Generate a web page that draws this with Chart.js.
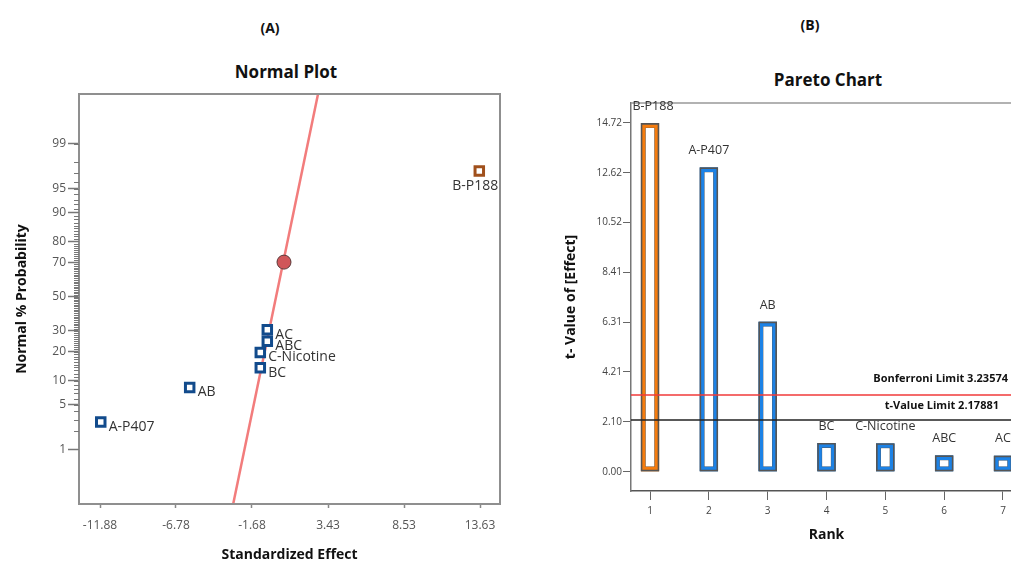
<!DOCTYPE html>
<html>
<head>
<meta charset="utf-8">
<script src="https://cdn.jsdelivr.net/npm/chart.js@4.4.1/dist/chart.umd.min.js"></script>
<style>
  body { margin: 0; width: 1011px; height: 563px; overflow: hidden; background: #fff; position: relative; font-family: "Open Sans", sans-serif; }
  .tag, .ttl { position: absolute; font-weight: bold; color: #111; transform: translateX(-50%); white-space: nowrap; line-height: 20px; }
  .tag { font-size: 14px; }
  .ttl { font-size: 17px; }
  #normalWrap { position: absolute; left: 0; top: 0; }
  #paretoWrap { position: absolute; left: 560px; top: 0; }
</style>
</head>
<body>
<div class="tag" style="left:270px; top:18px;">(A)</div>
<div class="ttl" style="left:286px; top:62px;">Normal Plot</div>
<div class="tag" style="left:810px; top:15px;">(B)</div>
<div class="ttl" style="left:828px; top:70px;">Pareto Chart</div>
<div id="normalWrap"><canvas id="normalPlot" width="520" height="563"></canvas></div>
<div id="paretoWrap"><canvas id="paretoChart" width="470" height="563"></canvas></div>
<script>
// ---- (A) normal plot data ----
const probTicks = [1, 5, 10, 20, 30, 50, 70, 80, 90, 95, 99];
const effectTicks = [-11.88, -6.78, -1.68, 3.43, 8.53, 13.63];
const effectNames = ["B-P188", "AC", "ABC", "C-Nicotine", "BC", "AB", "A-P407"];
const effectValues = [13.58, -0.65, -0.65, -1.12, -1.12, -5.86, -11.83];
const effectProb = [97.2, 30.6, 24.8, 19.7, 13.9, 8.3, 2.8];
const centerEffect = 0.47;
const centerProb = 70;
const fitLineEffect = [-2.94, 2.755];

// ---- (B) pareto data ----
const rankNums = [1, 2, 3, 4, 5, 6, 7];
const rankNames = ["B-P188", "A-P407", "AB", "BC", "C-Nicotine", "ABC", "AC"];
const tValues = [14.70, 12.83, 6.32, 1.20, 1.19, 0.68, 0.67];
const tTicks = [0.00, 2.10, 4.21, 6.31, 8.41, 10.52, 12.62, 14.72];
const bonferroniLimit = 3.23574;
const tValueLimit = 2.17881;

Chart.defaults.font.family = "'Open Sans', sans-serif";

// inverse normal cdf (Acklam), used for the probability axis
function probit(p) {
  const a = [-39.69683028665376, 220.9460984245205, -275.9285104469687, 138.3577518672690, -30.66479806614716, 2.506628277459239];
  const b = [-54.47609879822406, 161.5858368580409, -155.6989798598866, 66.80131188771972, -13.28068155288572];
  const c = [-0.007784894002430293, -0.3223964580411365, -2.400758277161838, -2.549732539343734, 4.374664141464968, 2.938163982698783];
  const d = [0.007784695709041462, 0.3224671290700398, 2.445134137142996, 3.754408661907416];
  const pl = 0.02425;
  let q, r;
  if (p < pl) {
    q = Math.sqrt(-2 * Math.log(p));
    return (((((c[0]*q+c[1])*q+c[2])*q+c[3])*q+c[4])*q+c[5]) / ((((d[0]*q+d[1])*q+d[2])*q+d[3])*q+1);
  }
  if (p > 1 - pl) {
    q = Math.sqrt(-2 * Math.log(1 - p));
    return -(((((c[0]*q+c[1])*q+c[2])*q+c[3])*q+c[4])*q+c[5]) / ((((d[0]*q+d[1])*q+d[2])*q+d[3])*q+1);
  }
  q = p - 0.5; r = q * q;
  return (((((a[0]*r+a[1])*r+a[2])*r+a[3])*r+a[4])*r+a[5])*q / (((((b[0]*r+b[1])*r+b[2])*r+b[3])*r+b[4])*r+1);
}

const zMin = -3.16, zMax = 3.085;
const BLUE_MARK = "#124b8c", BROWN_MARK = "#a0501c";

const normalExtras = {
  id: "normalExtras",
  afterDraw(chart) {
    const ctx = chart.ctx, a = chart.chartArea, ys = chart.scales.y;
    ctx.save();
    // frame
    ctx.strokeStyle = "#8f8f8f";
    ctx.lineWidth = 2;
    ctx.strokeRect(a.left, a.top, a.right - a.left, a.bottom - a.top);
    // minor ticks on the probability axis
    ctx.strokeStyle = "#777";
    ctx.lineWidth = 1;
    for (let p = 1; p <= 99; p++) {
      const y = Math.round(ys.getPixelForValue(probit(p / 100))) + 0.5;
      ctx.beginPath();
      ctx.moveTo(a.left - 5, y);
      ctx.lineTo(a.left, y);
      ctx.stroke();
    }
    ctx.restore();
  },
  afterDatasetsDraw(chart) {
    const ctx = chart.ctx;
    const meta = chart.getDatasetMeta(0);
    ctx.save();
    ctx.font = "14px 'Open Sans'";
    ctx.fillStyle = "#333";
    meta.data.forEach((pt, i) => {
      const name = effectNames[i];
      if (name === "B-P188") {
        ctx.textAlign = "center";
        ctx.textBaseline = "middle";
        ctx.fillText(name, pt.x - 4, pt.y + 15);
      } else {
        ctx.textAlign = "left";
        ctx.textBaseline = "middle";
        ctx.fillText(name, pt.x + 8, pt.y + 5);
      }
    });
    ctx.restore();
  }
};

new Chart(document.getElementById("normalPlot"), {
  type: "scatter",
  data: {
    datasets: [
      {
        label: "Effects",
        data: effectValues.map((v, i) => ({ x: v, y: probit(effectProb[i] / 100) })),
        pointStyle: "rect",
        pointRadius: 6,
        pointBorderWidth: 3,
        pointBackgroundColor: "#fff",
        pointBorderColor: effectValues.map(v => (v > 0 ? BROWN_MARK : BLUE_MARK)),
        order: 1
      },
      {
        label: "Center",
        data: [{ x: centerEffect, y: probit(centerProb / 100) }],
        pointStyle: "circle",
        pointRadius: 7,
        pointBackgroundColor: "#d0575a",
        pointBorderColor: "#5a3a3a",
        pointBorderWidth: 1,
        order: 0
      },
      {
        type: "line",
        label: "Fit",
        data: [{ x: fitLineEffect[0], y: zMin }, { x: fitLineEffect[1], y: zMax }],
        borderColor: "#f27c7c",
        borderWidth: 2.5,
        pointRadius: 0,
        order: 2
      }
    ]
  },
  options: {
    responsive: false,
    animation: false,
    layout: { padding: { top: 94, right: 20, left: 0, bottom: 0 } },
    plugins: { legend: { display: false }, tooltip: { enabled: false } },
    scales: {
      x: {
        type: "linear",
        min: -13.29,
        max: 14.97,
        afterBuildTicks: s => { s.ticks = effectTicks.map(v => ({ value: v })); },
        afterFit: s => { s.height = 59; },
        ticks: { autoSkip: false, maxRotation: 0, padding: 10, color: "#555", font: { size: 12 }, callback: v => v.toFixed(2) },
        grid: { drawOnChartArea: false, tickLength: 4, tickColor: "#888", tickWidth: 1.5 },
        border: { display: false },
        title: { display: true, text: "Standardized Effect", color: "#111", font: { size: 14, weight: "bold" }, padding: { top: 0, bottom: 0 } }
      },
      y: {
        type: "linear",
        min: zMin,
        max: zMax,
        afterBuildTicks: s => { s.ticks = probTicks.map(p => ({ value: probit(p / 100) })); },
        afterFit: s => { s.width = 79; },
        ticks: { autoSkip: false, padding: 2, color: "#555", font: { size: 12 }, callback: (v, i) => String(probTicks[i]) },
        grid: { drawOnChartArea: false, tickLength: 11, tickColor: "#777", tickWidth: 1.5 },
        border: { display: false },
        title: { display: true, text: "Normal % Probability", color: "#111", font: { size: 14, weight: "bold" }, padding: { top: 14, bottom: 0 } }
      }
    }
  },
  plugins: [normalExtras]
});

// ---- (B) ----
const ORANGE = "#f57c0e", BLUE = "#1c82e6", OUTLINE = "#555";
const barColors = rankNames.map(n => (effectValues[effectNames.indexOf(n)] > 0 ? ORANGE : BLUE));
const barData = tValues.map((v, i) => ({ x: rankNums[i], y: v }));
const xMinB = 0.677, xMaxB = 7.323;

const paretoExtras = {
  id: "paretoExtras",
  afterDraw(chart) {
    const ctx = chart.ctx, a = chart.chartArea, xs = chart.scales.x, ys = chart.scales.y;
    ctx.save();
    ctx.strokeStyle = "#999";
    ctx.lineWidth = 1.5;
    ctx.beginPath();
    ctx.moveTo(a.left, a.top);
    ctx.lineTo(a.right, a.top);
    ctx.stroke();

    // bar labels
    ctx.font = "12.5px 'Open Sans'";
    ctx.fillStyle = "#333";
    ctx.textAlign = "center";
    ctx.textBaseline = "middle";
    chart.getDatasetMeta(0).data.forEach((bar, i) => {
      ctx.fillText(rankNames[i], bar.x + (i === 0 ? 3 : 0), bar.y - 17);
    });

    // limit texts
    const xr = xs.getPixelForValue(rankNums[rankNums.length - 1]);
    ctx.font = "bold 11px 'Open Sans'";
    ctx.fillStyle = "#111";
    ctx.textAlign = "right";
    ctx.fillText("Bonferroni Limit " + bonferroniLimit, xr + 5, ys.getPixelForValue(bonferroniLimit) - 16);
    ctx.fillText("t-Value Limit " + tValueLimit, xr - 4, ys.getPixelForValue(tValueLimit) - 14);
    ctx.restore();
  }
};

const barBase = { barThickness: 18, borderSkipped: false, grouped: false };

new Chart(document.getElementById("paretoChart"), {
  type: "bar",
  data: {
    datasets: [
      { ...barBase, label: "inner", data: barData, backgroundColor: "#fff", borderColor: OUTLINE, borderWidth: 5, order: 3 },
      { ...barBase, label: "t-Value", data: barData, backgroundColor: "rgba(0,0,0,0)", borderColor: barColors, borderWidth: 4, order: 2 },
      { ...barBase, label: "outer", data: barData, backgroundColor: "rgba(0,0,0,0)", borderColor: OUTLINE, borderWidth: 1, order: 1 },
      {
        type: "line", label: "Bonferroni",
        data: [{ x: xMinB, y: bonferroniLimit }, { x: xMaxB, y: bonferroniLimit }],
        borderColor: "#f03a3a", borderWidth: 1.5, pointRadius: 0, order: 0
      },
      {
        type: "line", label: "t-Value Limit",
        data: [{ x: xMinB, y: tValueLimit }, { x: xMaxB, y: tValueLimit }],
        borderColor: "#222", borderWidth: 1.5, pointRadius: 0, order: 0
      }
    ]
  },
  options: {
    responsive: false,
    animation: false,
    layout: { padding: { top: 103, right: 8, left: 0, bottom: 0 } },
    plugins: { legend: { display: false }, tooltip: { enabled: false } },
    scales: {
      x: {
        type: "linear",
        min: xMinB,
        max: xMaxB,
        offset: false,
        afterBuildTicks: s => { s.ticks = rankNums.map(v => ({ value: v })); },
        afterFit: s => { s.height = 72; },
        ticks: { autoSkip: false, maxRotation: 0, padding: 5, color: "#444", font: { size: 10 }, callback: v => String(v) },
        grid: { offset: false, drawOnChartArea: false, tickLength: 9, tickColor: "#666", tickWidth: 1 },
        border: { display: true, color: "#555", width: 1.5 },
        title: { display: true, text: "Rank", color: "#111", font: { size: 14, weight: "bold" }, padding: { top: 0, bottom: 20 } }
      },
      y: {
        type: "linear",
        min: -0.815,
        max: 15.56,
        afterBuildTicks: s => { s.ticks = tTicks.map(v => ({ value: v })); },
        afterFit: s => { s.width = 71; },
        ticks: { autoSkip: false, padding: 1, color: "#444", font: { size: 10 }, callback: v => v.toFixed(2) },
        grid: { drawOnChartArea: false, tickLength: 8, tickColor: "#666", tickWidth: 1 },
        border: { display: true, color: "#777", width: 1.5 },
        title: { display: true, text: "t- Value of [Effect]", color: "#111", font: { size: 14, weight: "bold" }, padding: { top: 3, bottom: 0 } }
      }
    }
  },
  plugins: [paretoExtras]
});
</script>
</body>
</html>
